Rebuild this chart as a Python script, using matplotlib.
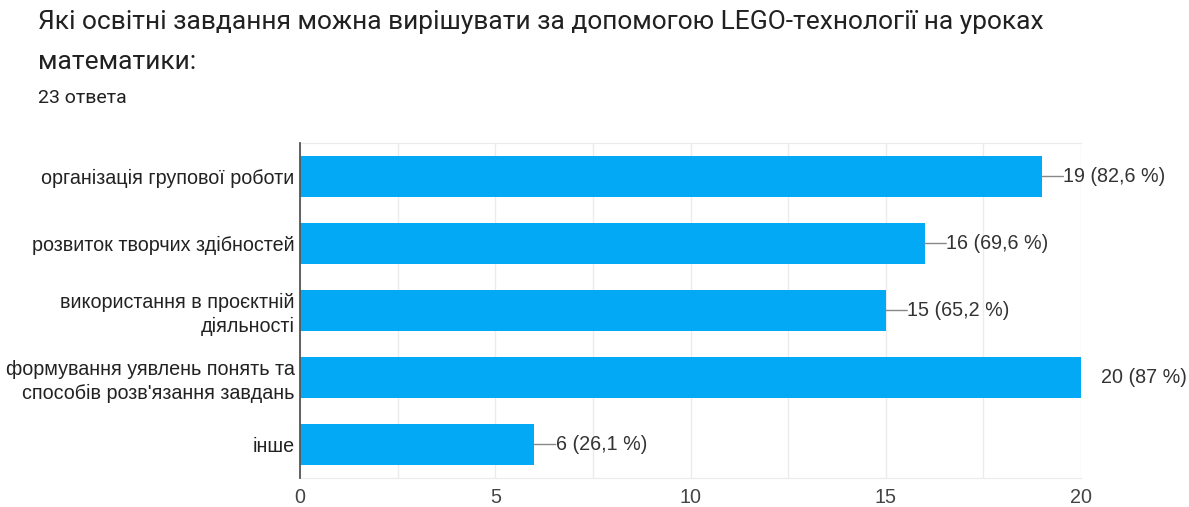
import matplotlib
matplotlib.use("Agg")
import matplotlib.pyplot as plt
from matplotlib.ticker import MultipleLocator

categories = [
    "організація групової роботи",
    "розвиток творчих здібностей",
    "використання в проєктній\nдіяльності",
    "формування уявлень понять та\nспособів розв'язання завдань",
    "інше",
]
counts = [19, 16, 15, 20, 6]
percents = ["82,6", "69,6", "65,2", "87", "26,1"]
xticks = [0, 5, 10, 15, 20]

FAM = ["Liberation Sans", "DejaVu Sans"]

fig = plt.figure(figsize=(11.89, 5.07), dpi=100)
ax = fig.add_axes([300/1189, 1-478/507, 781/1189, 335/507])

ypos = list(range(len(categories)))
ax.barh(ypos, counts, height=0.61, color="#03a9f4", zorder=3)
ax.set_ylim(len(categories) - 0.5, -0.5)
ax.set_xlim(0, 20)
ax.set_xticks(xticks)
ax.xaxis.set_minor_locator(MultipleLocator(2.5))
ax.grid(True, axis="x", which="both", color="#ebebeb", linewidth=1, zorder=0)
ax.set_yticks(ypos)
ax.set_yticklabels(categories, fontsize=14.2, family=FAM, color="#222222", linespacing=1.3)
for lab in ax.get_xticklabels():
    lab.set_fontfamily(FAM)
ax.tick_params(axis="x", which="both", length=0, pad=7, labelsize=14.2, labelcolor="#444444")
ax.tick_params(axis="y", length=0, pad=4)
ax.spines["right"].set_visible(False)
ax.spines["top"].set_color("#ebebeb")
ax.spines["bottom"].set_color("#ebebeb")
ax.spines["left"].set_color("#555555")
ax.spines["left"].set_linewidth(1.3)
ax.spines["left"].set_zorder(5)

for y, c, p in zip(ypos, counts, percents):
    if c < 20:
        ax.annotate("", xy=(c, y), xytext=(c + 0.55, y),
                    arrowprops=dict(arrowstyle="-", color="#888888", lw=1, shrinkA=0, shrinkB=0),
                    annotation_clip=False)
        ax.text(c + 0.55, y, f"{c} ({p} %)", va="center", ha="left", fontsize=14.2,
                family=FAM, color="#333333")
    else:
        ax.text(c + 0.5, y, f"{c} ({p} %)", va="center", ha="left", fontsize=14.2,
                family=FAM, color="#333333")

fig.text(38/1189, 1-22/507, "Які освітні завдання можна вирішувати за допомогою LEGO-технології на уроках",
         fontsize=19, family=["Roboto", "DejaVu Sans"], color="#212121", va="center")
fig.text(38/1189, 1-62/507, "математики:",
         fontsize=19, family=["Roboto", "DejaVu Sans"], color="#212121", va="center")
fig.text(38/1189, 1-98/507, "23 ответа",
         fontsize=14, family=["Roboto", "DejaVu Sans"], color="#212121", va="center")

fig.savefig("out.png", dpi=100)
